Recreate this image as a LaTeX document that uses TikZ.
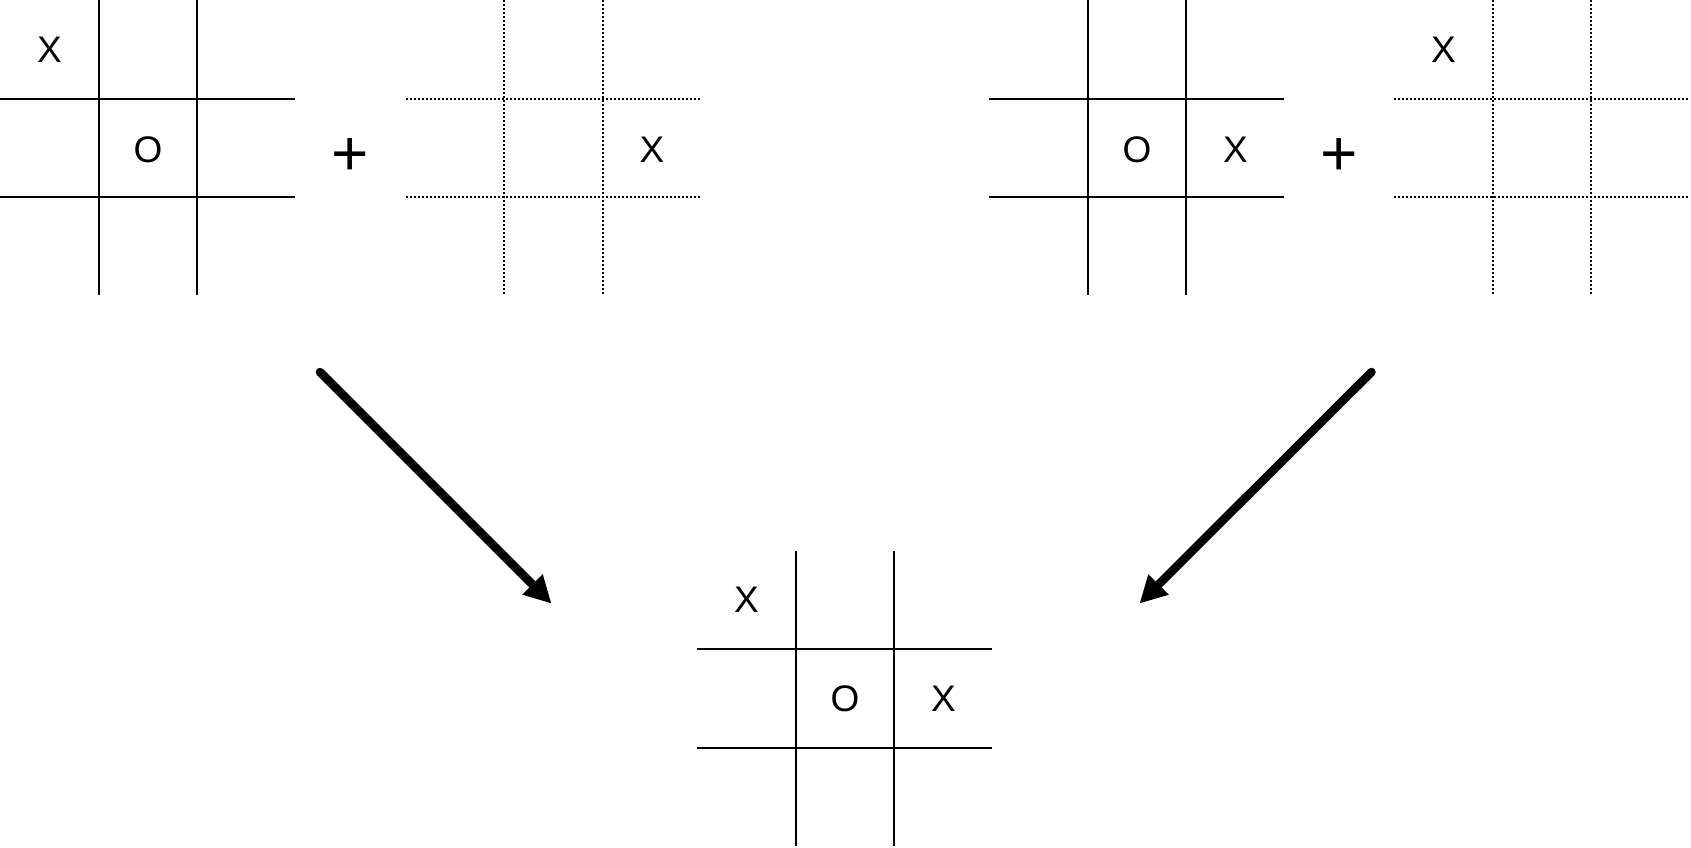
\documentclass[tikz,border=0pt]{standalone}
\usepackage{fontspec}
\setmainfont{Liberation Sans}
\usetikzlibrary{arrows.meta}
\tikzset{
  solidgrid/.style={line width=2pt, black},
  dotgrid/.style={line width=2pt, black, dash pattern=on 2pt off 2pt},
  tttmark/.style={inner sep=0pt, anchor=center, font=\fontsize{37}{44}\selectfont},
  plussign/.style={inner sep=0pt, anchor=base, font=\fontsize{64}{70}\selectfont},
  bigarrow/.style={line width=8.5pt, line cap=round, -{Triangle[length=27pt,width=27pt]}}
}
% #1 style, #2 x of left edge, #3 y of top edge
\newcommand\tttgrid[3]{%
  \draw[#1] ({#2+98.5},{#3}) -- ({#2+98.5},{#3+295});
  \draw[#1] ({#2+197},{#3}) -- ({#2+197},{#3+295});
  \draw[#1] ({#2},{#3+98.5}) -- ({#2+295},{#3+98.5});
  \draw[#1] ({#2},{#3+197}) -- ({#2+295},{#3+197});
}
\begin{document}
\begin{tikzpicture}[x=1pt, y=-1pt]
\useasboundingbox (0,0) rectangle (1691,847);
% top left pair
\tttgrid{solidgrid}{0}{0}
\node[tttmark] (g1x) at (49.5,50) {X};
\node[tttmark] (g1o) at (148,150) {O};
\node[plussign] (p1) at (350,175) {+};
\tttgrid{dotgrid}{405.5}{0}
\node[tttmark] (g2x) at (652,150) {X};
% top right pair
\tttgrid{solidgrid}{989}{0}
\node[tttmark] (g3o) at (1137,150) {O};
\node[tttmark] (g3x) at (1235.5,150) {X};
\node[plussign] (p2) at (1339,175) {+};
\tttgrid{dotgrid}{1394}{0}
\node[tttmark] (g4x) at (1443.5,50) {X};
% bottom result
\tttgrid{solidgrid}{697.3}{550.5}
\node[tttmark] (g5x) at (746.5,600) {X};
\node[tttmark] (g5o) at (845,699) {O};
\node[tttmark] (g5x2) at (943.5,699) {X};
% arrows
\coordinate (a1s) at (320,372);
\coordinate (a1e) at (551.5,603.5);
\coordinate (a2s) at (1371.5,372);
\coordinate (a2e) at (1139.5,603.5);
\draw[bigarrow] (a1s) -- (a1e);
\draw[bigarrow] (a2s) -- (a2e);
\end{tikzpicture}
\end{document}
